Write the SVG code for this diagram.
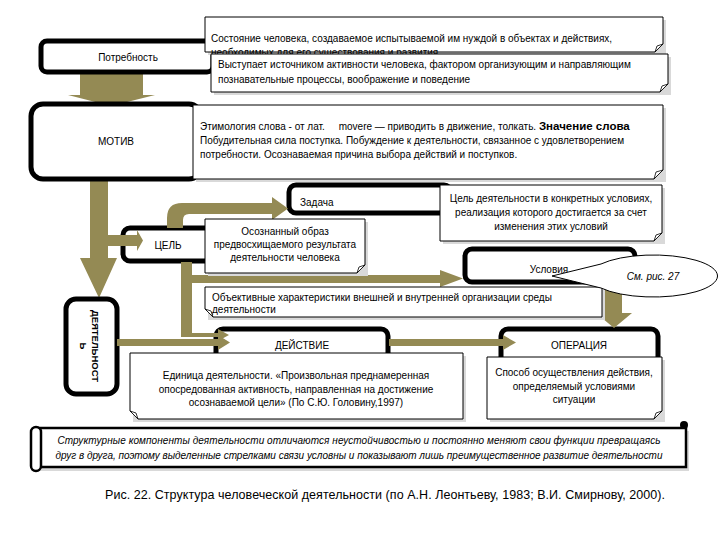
<svg xmlns="http://www.w3.org/2000/svg" width="720" height="540" viewBox="0 0 720 540">
<style>
text{font-family:"Liberation Sans",Arial,sans-serif;fill:#000}
.t{font-size:10px}
.lbl{font-size:10px}
.c{text-anchor:middle}
.box{fill:#fff;stroke:#000;stroke-width:5}
.note{fill:#fff;stroke:#000;stroke-width:1}
.fold{fill:#fff;stroke:#000;stroke-width:0.8}
.sh{fill:#d9d9d9}
.arr{fill:#948A54}
.it{font-style:italic}
</style>
<rect width="720" height="540" fill="#fff"/>

<g id="connectors">
  <polygon class="arr" points="80,73 143,73 143,95 155,95 111,106 68,95 80,95"/>
  <polygon class="arr" points="90,180 108,180 108,258 117,258 99,298 80,258 90,258"/>
</g>

<g id="potrebnost"><rect class="box" x="41" y="41" width="172" height="31" rx="6"/><text class="lbl c" x="128" y="61">Потребность</text></g>
<g id="motiv"><rect class="box" x="31" y="104" width="170" height="75" rx="12"/><text class="lbl c" x="116" y="145">МОТИВ</text></g>
<g id="tsel"><rect class="box" x="123" y="228" width="92" height="33" rx="7"/><text class="lbl c" x="168" y="249">ЦЕЛЬ</text></g>
<g id="zadacha"><rect class="box" x="289" y="185" width="162" height="28" rx="7"/><text class="lbl" x="300" y="206">Задача</text></g>
<g id="usloviya"><rect class="box" x="465" y="249" width="170" height="33" rx="7"/><text class="lbl c" x="549" y="273">Условия</text></g>
<g id="deystvie"><rect class="box" x="216" y="329" width="172" height="40" rx="7"/><text class="lbl c" x="302" y="349">ДЕЙСТВИЕ</text></g>
<g id="operatsiya"><rect class="box" x="501" y="329" width="157" height="40" rx="7"/><text class="lbl c" x="579" y="349">ОПЕРАЦИЯ</text></g>
<g id="deyatelnost"><rect class="box" x="66" y="299" width="51" height="95" rx="10"/>
  <text transform="translate(92,346) rotate(90)" class="c" font-size="9.5" font-weight="bold">ДЕЯТЕЛЬНОСТ</text>
  <text transform="translate(80,346) rotate(90)" class="c" font-size="9.5" font-weight="bold">Ь</text>
</g>

<g id="connectors2">
  <polygon class="arr" points="108,235 137,235 137,230 143,240.5 137,251 137,246 108,246"/>
  <path class="arr" d="M167,228 L167,218 Q167,203 182,203 L272,203 L272,197 L288,208.5 L272,220 L272,214 L189,214 Q183,214 183,220 L183,228 Z"/>
  <polygon class="arr" points="181,262 192,262 192,275 440,275 440,270 463,278.5 440,287 440,283 192,283 192,333 218,333 218,329 229,335 218,341 218,337 181,337"/>
  <polygon class="arr" points="117,339 218,339 218,335 230,342.5 218,350 218,346 117,346"/>
  <polygon class="arr" points="389,339 503,339 503,335 516,342.5 503,350 503,346 389,346"/>
  <polygon class="arr" points="604,283 622,283 622,313 632,313 614,328 596,313 604,313"/>
</g>

<g id="note-potrebnost1">
  <rect class="sh" x="208" y="20" width="458" height="35"/>
  <path class="note" d="M205,17 H663 V44 L655,52 H205 Z"/><path class="fold" d="M663,44 L657,46 L655,52 Z"/>
  <text class="t" x="211" y="42">Состояние человека, создаваемое испытываемой им нуждой в объектах и действиях,</text>
  <text class="t" x="211" y="56">необходимых для его существования и развития</text>
</g>
<g id="note-potrebnost2">
  <rect class="sh" x="214" y="57" width="457" height="38"/>
  <path class="note" d="M211,54 H668 V84 L660,92 H211 Z"/><path class="fold" d="M668,84 L662,86 L660,92 Z"/>
  <text class="t" x="218" y="68">Выступает источником активности  человека, фактором организующим и направляющим</text>
  <text class="t" x="218" y="83">познавательные процессы, воображение и поведение</text>
</g>
<g id="note-motiv">
  <rect class="sh" x="196" y="108" width="470" height="74"/>
  <path class="note" d="M193,105 H663 V170 L654,179 H193 Z"/><path class="fold" d="M663,170 L656,172 L654,179 Z"/>
  <text class="t" x="200" y="130" style="white-space:pre">Этимология слова - от лат.     movere — приводить в движение, толкать. <tspan font-weight="bold" font-size="11.5">Значение слова</tspan></text>
  <text class="t" x="200" y="144">Побудительная сила поступка. Побуждение к деятельности, связанное с удовлетворением</text>
  <text class="t" x="200" y="158">потребности. Осознаваемая причина выбора действий и поступков.</text>
</g>
<g id="note-zadacha">
  <rect class="sh" x="443" y="188" width="222" height="56"/>
  <path class="note" d="M440,185 H662 V233 L654,241 H440 Z"/><path class="fold" d="M662,233 L656,235 L654,241 Z"/>
  <text class="t c" x="551" y="202">Цель деятельности в конкретных условиях,</text>
  <text class="t c" x="551" y="216">реализация которого достигается за счет</text>
  <text class="t c" x="551" y="230">изменения этих условий</text>
</g>
<g id="note-tsel">
  <rect class="sh" x="208" y="222" width="160" height="54"/>
  <path class="note" d="M205,219 H365 V265 L357,273 H205 Z"/><path class="fold" d="M365,265 L359,267 L357,273 Z"/>
  <text class="t c" x="285" y="235">Осознанный образ</text>
  <text class="t c" x="285" y="248">предвосхищаемого результата</text>
  <text class="t c" x="285" y="261">деятельности человека</text>
</g>
<g id="note-sreda">
  <rect class="sh" x="208" y="290" width="397" height="30"/>
  <path class="note" d="M205,287 H602 V317 H213 L205,309 Z"/><path class="fold" d="M205,309 L211,311 L213,317 Z"/>
  <text class="t" x="212" y="301">Объективные характеристики внешней и внутренней организации среды</text>
  <text class="t" x="212" y="313">деятельности</text>
</g>
<g id="note-deystvie">
  <rect class="sh" x="133" y="356" width="333" height="66"/>
  <path class="note" d="M130,353 H463 V419 H138 L130,411 Z"/><path class="fold" d="M130,411 L136,413 L138,419 Z"/>
  <text class="t c" x="296" y="379">Единица деятельности. «Произвольная преднамеренная</text>
  <text class="t c" x="296" y="393">опосредованная активность, направленная на достижение</text>
  <text class="t c" x="296" y="406">осознаваемой цели» (По С.Ю. Головину,1997)</text>
</g>
<g id="note-operatsiya">
  <rect class="sh" x="490" y="360" width="175" height="62"/>
  <path class="note" d="M487,357 H662 V411 L654,419 H487 Z"/><path class="fold" d="M662,411 L656,413 L654,419 Z"/>
  <text class="t c" x="574" y="376">Способ осуществления действия,</text>
  <text class="t c" x="574" y="390">определяемый условиями</text>
  <text class="t c" x="574" y="403">ситуации</text>
</g>
<g id="callout">
  <path d="M601,264 A64,21 0 1,1 601,288 L552,276 Z" fill="#fff" stroke="#000" stroke-width="1"/>
  <text class="it c" font-size="10" x="653" y="280">См. рис. 27</text>
</g>
<g id="scroll">
  <rect class="sh" x="41" y="431" width="648" height="40"/>
  <rect x="38" y="428" width="648" height="39" fill="#fff" stroke="#000" stroke-width="2.5"/>
  <rect x="31" y="427" width="10" height="44" rx="5" fill="#fff" stroke="#000" stroke-width="2.5"/>
  <circle cx="684" cy="425" r="4" fill="#000"/>
  <text class="it c" font-size="10" x="359" y="444" textLength="603">Структурные компоненты деятельности отличаются неустойчивостью и постоянно меняют свои функции превращаясь</text>
  <text class="it c" font-size="10" x="359" y="459" textLength="607">друг в друга, поэтому выделенные стрелками связи условны и показывают лишь преимущественное развитие деятельности</text>
</g>
<text x="385" y="499" class="c" font-size="12.5" textLength="560">Рис. 22. Структура человеческой деятельности (по А.Н. Леонтьеву, 1983; В.И. Смирнову, 2000).</text>
</svg>
